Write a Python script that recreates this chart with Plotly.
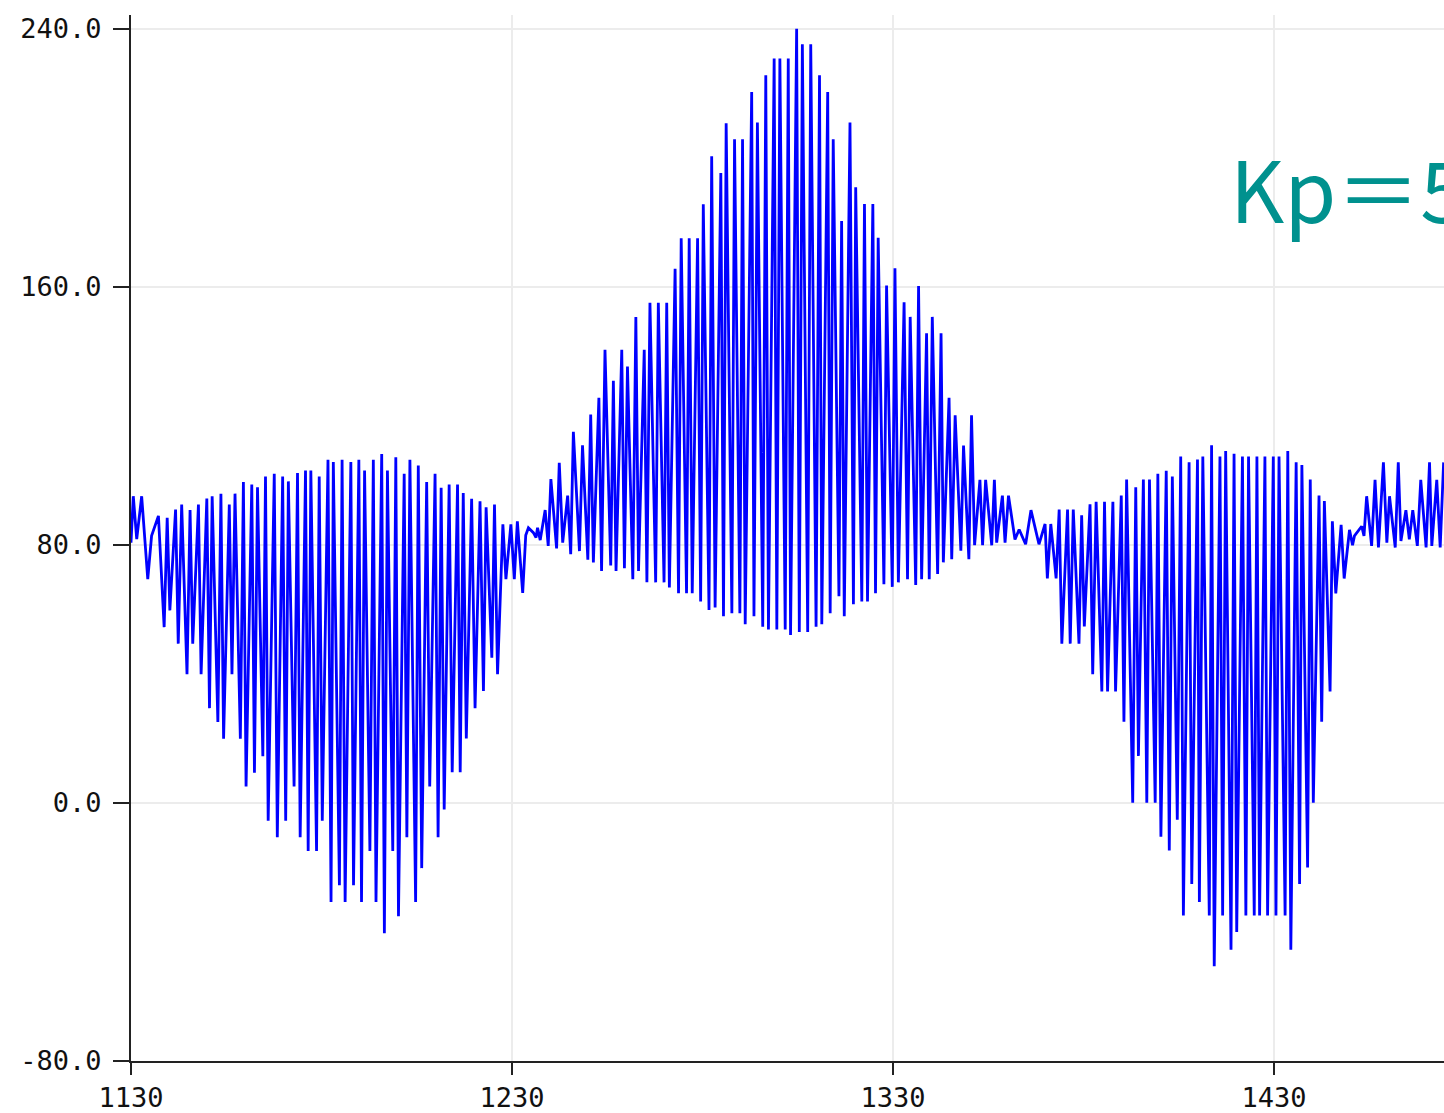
import plotly.graph_objects as go

# ---- data: signal vertices (x = sample axis value, y = value) ----
x_seg1 = [1130.0, 1130.6, 1131.5, 1132.8, 1134.4, 1135.4, 1137.2, 1138.7, 1139.5, 1140.2,
          1141.7, 1142.4, 1143.3, 1144.7, 1145.5, 1146.2, 1147.7, 1148.4, 1149.9, 1150.6,
          1151.3, 1152.8, 1153.6, 1154.3, 1155.8, 1156.5, 1157.3, 1158.7, 1159.5, 1160.2,
          1161.7, 1162.4, 1163.2, 1164.6, 1165.3, 1166.0, 1167.6, 1168.4, 1169.8]
y_seg1 = [80.7, 95.1, 81.8, 95.1, 69.4, 82.8, 89.0, 54.5, 88.4, 59.7,
          91.0, 49.4, 92.5, 39.9, 90.8, 49.4, 92.5, 39.9, 94.4, 29.4,
          95.1, 25.1, 95.9, 19.9, 92.5, 39.9, 95.9, 19.9, 99.5, 5.1,
          98.7, 9.4, 97.9, 14.5, 101.2, -5.5, 102.1, -10.6, 101.2]

x_seg2 = [1170.6, 1171.3, 1172.8, 1173.7, 1174.4, 1175.8, 1176.5, 1177.2, 1178.7, 1179.4,
          1180.2, 1181.7, 1182.5, 1183.1, 1184.7, 1185.4, 1186.2, 1187.7, 1188.4, 1189.8,
          1190.5, 1191.3, 1192.7, 1193.6, 1194.3, 1195.8, 1196.5, 1197.3, 1198.7, 1199.5,
          1200.2, 1201.7, 1202.4, 1203.2, 1204.7, 1205.4, 1206.3, 1207.6, 1208.4, 1209.8,
          1210.6]
y_seg2 = [-5.5, 99.7, 5.1, 102.3, -10.6, 103.1, -14.9, 103.1, -14.9, 101.2,
          -5.5, 106.4, -30.7, 105.7, -25.5, 106.4, -30.7, 105.7, -25.5, 106.4,
          -30.7, 103.1, -14.9, 106.4, -30.7, 108.2, -40.4, 103.1, -14.9, 107.2,
          -35.1, 102.1, -10.6, 106.4, -30.7, 104.6, -20.2, 99.5, 5.1, 102.1,
          -10.6]

x_seg3 = [1211.4, 1212.2, 1213.5, 1214.3, 1215.7, 1216.4, 1217.2, 1218.0, 1219.4, 1220.3,
          1221.6, 1222.5, 1223.2, 1224.7, 1225.4, 1226.2, 1227.6, 1228.4, 1229.7, 1230.6,
          1231.4, 1232.8, 1233.6, 1234.3, 1235.6, 1236.3, 1236.7, 1237.4, 1238.7, 1239.5,
          1240.2, 1241.7, 1242.4, 1243.3, 1244.6, 1245.4, 1246.1, 1247.7, 1248.5, 1249.9]
y_seg3 = [97.7, -2.0, 98.7, 9.5, 98.7, 9.5, 96.1, 20.0, 94.3, 29.4,
          93.5, 34.7, 91.7, 45.0, 92.5, 39.9, 86.4, 69.4, 86.4, 69.4,
          87.3, 65.1, 83.0, 85.3, 83.8, 82.3, 85.3, 81.5, 90.8, 79.7,
          100.4, 78.9, 105.5, 80.7, 95.3, 77.1, 115.1, 78.1, 110.9, 75.4]

x_seg4 = [1250.65, 1251.35, 1252.8, 1253.5, 1254.4, 1255.9, 1256.6, 1257.3, 1258.8, 1259.5,
          1260.3, 1261.7, 1262.5, 1263.2, 1264.7, 1265.4, 1266.2, 1267.7, 1268.4, 1269.9,
          1270.6, 1271.3, 1272.8, 1273.7, 1274.4, 1275.8, 1276.5, 1277.3, 1278.7, 1279.5,
          1280.2, 1281.7, 1282.4, 1283.3, 1284.8, 1285.5, 1286.2, 1287.7, 1288.4, 1289.8,
          1290.5, 1291.2]
y_seg4 = [120.4, 74.6, 125.6, 71.9, 140.5, 73.6, 130.9, 71.9, 140.5, 72.8,
          135.3, 69.4, 150.7, 71.9, 140.5, 68.4, 155.1, 68.4, 155.1, 68.4,
          155.1, 66.8, 165.6, 65.0, 175.1, 65.0, 175.1, 65.0, 175.1, 62.5,
          185.6, 59.8, 200.5, 60.6, 195.3, 57.9, 210.7, 58.8, 205.8, 58.8,
          205.8, 55.4]

x_seg5 = [1292.9, 1293.5, 1294.4, 1295.8, 1296.6, 1297.3, 1298.8, 1299.5, 1300.3, 1301.7,
          1302.5, 1303.1, 1304.7, 1305.4, 1306.2, 1307.6, 1308.4, 1309.8, 1310.7, 1311.3,
          1312.85, 1313.5, 1314.3, 1315.8, 1316.5, 1317.2, 1318.7, 1319.6, 1320.2, 1321.8,
          1322.5, 1323.3, 1324.7, 1325.4, 1326.1, 1327.6, 1328.3, 1329.8, 1330.5]
y_seg5 = [220.4, 57.9, 211.0, 54.6, 225.6, 53.8, 230.8, 53.8, 230.8, 53.8,
          230.8, 52.1, 240.0, 53.0, 235.2, 53.0, 235.2, 54.6, 225.6, 55.4,
          220.4, 58.8, 205.8, 64.1, 180.4, 57.9, 211.0, 61.6, 190.9, 62.5,
          185.7, 62.5, 185.7, 65.0, 175.2, 67.8, 160.4, 67.0, 165.8]

x_seg6 = [1331.4, 1332.9, 1333.8, 1334.5, 1335.95, 1336.7, 1337.5, 1338.8, 1339.5, 1340.3,
          1341.7, 1342.6, 1343.2, 1344.7, 1345.4, 1346.3, 1347.8, 1348.5, 1349.9, 1350.6,
          1351.4, 1352.8, 1353.5, 1354.3, 1355.9, 1356.6, 1357.2, 1358.7, 1359.4, 1360.3,
          1362.0, 1363.1, 1364.8, 1366.2, 1368.3]
y_seg6 = [68.4, 155.2, 69.4, 150.7, 67.6, 160.3, 69.4, 145.6, 69.4, 150.7,
          71.0, 145.6, 74.6, 125.6, 75.6, 120.2, 78.2, 110.8, 75.6, 120.2,
          79.9, 100.2, 79.9, 100.2, 79.9, 100.2, 80.7, 95.3, 80.7, 95.3,
          81.7, 84.8, 80.2, 90.8, 80.2]

x_seg7 = [1369.9, 1370.5, 1371.4, 1372.8, 1373.6, 1374.3, 1375.8, 1376.5, 1377.3, 1378.8,
          1379.5, 1380.2, 1381.7, 1382.4, 1383.3, 1384.8, 1385.5, 1386.3, 1387.7, 1388.4,
          1389.9, 1390.6, 1391.3, 1392.9, 1393.7, 1394.4, 1395.7, 1396.6, 1397.3, 1398.8,
          1399.5, 1400.3, 1401.7, 1402.5, 1403.3, 1404.6, 1405.5, 1406.2, 1407.7, 1408.4,
          1409.9, 1410.4]
y_seg7 = [86.5, 69.6, 86.5, 69.6, 91.0, 49.4, 91.0, 49.4, 91.0, 49.4,
          89.2, 54.7, 92.6, 39.9, 93.4, 34.6, 93.4, 34.6, 93.4, 34.6,
          95.3, 25.2, 100.3, 0.1, 97.9, 14.6, 100.3, 0.1, 100.3, 0.1,
          102.1, -10.5, 103.0, -14.7, 101.2, -5.2, 107.4, -34.9, 105.6, -25.1,
          106.5, -30.7]

x_seg8 = [1411.3, 1413.0, 1413.6, 1414.3, 1415.8, 1416.5, 1417.3, 1418.7, 1419.5, 1420.2,
          1421.7, 1422.6, 1423.3, 1424.8, 1425.5, 1426.2, 1427.6, 1428.3, 1429.8, 1430.5,
          1431.3, 1432.9, 1433.6, 1434.4, 1435.8, 1436.7, 1437.3, 1438.8, 1439.5, 1440.3,
          1441.8, 1442.5, 1443.2, 1444.7, 1445.3, 1446.2, 1447.6, 1448.4, 1449.8, 1450.6,
          1451.1]
y_seg8 = [107.4, -34.9, 110.9, -50.6, 107.4, -34.9, 109.1, -45.5, 108.3, -40.0,
          107.4, -34.9, 107.4, -34.9, 107.4, -34.9, 107.4, -34.9, 107.4, -34.9,
          107.4, -34.9, 109.1, -45.5, 105.6, -25.1, 104.8, -20.0, 100.3, 0.1,
          95.3, 25.2, 93.6, 34.6, 87.3, 65.0, 86.2, 69.6, 84.7, 79.9,
          82.8]

x_seg9 = [1452.4, 1453.0, 1453.6, 1454.3, 1455.6, 1456.5, 1457.4, 1458.7, 1459.6, 1460.3,
          1461.8, 1462.6, 1463.3, 1464.6, 1465.5, 1466.4, 1467.6, 1468.5, 1469.9, 1470.8,
          1471.4, 1472.7, 1473.6, 1474.5]
y_seg9 = [84.8, 85.8, 82.8, 95.1, 79.7, 100.2, 79.2, 105.6, 80.7, 95.1,
          79.2, 105.6, 81.2, 90.8, 81.7, 90.8, 79.7, 100.2, 79.2, 105.6,
          79.7, 100.2, 79.2, 105.6]

x_ticks = [1130, 1230, 1330, 1430]
x_tick_labels = ["1130", "1230", "1330", "1430"]
y_ticks = [-80, 0, 80, 160, 240]
y_tick_labels = ["-80.0", "0.0", "80.0", "160.0", "240.0"]
label_text = "Kp＝5"

xs = (x_seg1 + x_seg2 + x_seg3 + x_seg4 + x_seg5 + x_seg6 + x_seg7 + x_seg8 + x_seg9)
ys = (y_seg1 + y_seg2 + y_seg3 + y_seg4 + y_seg5 + y_seg6 + y_seg7 + y_seg8 + y_seg9)

fig = go.Figure()
fig.add_trace(go.Scatter(x=xs, y=ys, mode="lines",
                         line=dict(color="#0000ff", width=2.8),
                         hoverinfo="skip", showlegend=False))

tickfont = dict(family="DejaVu Sans Mono", size=27, color="#111111")
fig.update_layout(
    width=1444, height=1113,
    margin=dict(l=131, r=0, t=15, b=45, pad=0),
    paper_bgcolor="white", plot_bgcolor="white",
    showlegend=False,
    xaxis=dict(range=[1130, 1474.6], tickmode="array", tickvals=x_ticks, ticktext=x_tick_labels,
               showgrid=True, gridcolor="#ececec", gridwidth=2,
               showline=True, linecolor="#222222", linewidth=2,
               ticks="outside", ticklen=12, tickwidth=2, tickcolor="#222222",
               tickfont=tickfont, zeroline=False, fixedrange=True),
    yaxis=dict(range=[-80, 244.3], tickmode="array", tickvals=y_ticks, ticktext=y_tick_labels,
               showgrid=True, gridcolor="#ececec", gridwidth=2,
               showline=True, linecolor="#222222", linewidth=2,
               ticks="outside", ticklen=16, tickwidth=2, tickcolor="#222222",
               ticklabelstandoff=6,
               tickfont=tickfont, zeroline=False, fixedrange=True),
    annotations=[dict(text=label_text, xref="paper", yref="paper",
                      x=0.8355, y=0.836, xanchor="left", yanchor="middle",
                      showarrow=False,
                      font=dict(family="Noto Sans CJK SC", size=84, color="#00918e"))],
)

fig.write_html("out.html", config={"displayModeBar": False},
               post_script="document.body.style.margin='0px';document.body.style.overflow='hidden';")
